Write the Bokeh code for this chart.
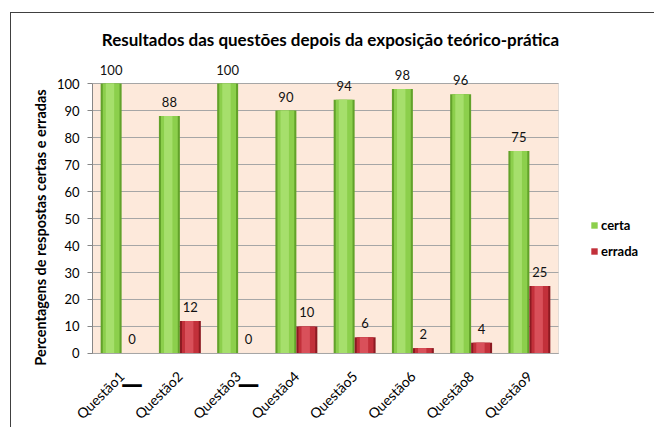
import math
from bokeh.plotting import figure
from bokeh.models import (Range1d, LabelSet, Label, Legend, LegendItem,
                          ColumnDataSource, FixedTicker, BoxAnnotation)
from bokeh.transform import dodge
from bokeh.core.properties import value
from bokeh.embed import file_html
from bokeh.resources import INLINE

# ---- data ----
categories = ["Questão1", "Questão2", "Questão3", "Questão4",
              "Questão5", "Questão6", "Questão8", "Questão9"]
certa = [100, 88, 100, 90, 94, 98, 96, 75]
errada = [0, 12, 0, 10, 6, 2, 4, 25]
series_names = ["certa", "errada"]
y_ticks = [0, 10, 20, 30, 40, 50, 60, 70, 80, 90, 100]
title_text = "Resultados das questões depois da exposição teórico-prática"
y_label_text = "Percentagens de respostas certas e erradas"

FONT = "Lato"

xi = list(range(len(categories)))
src = ColumnDataSource(dict(
    xi=xi, cats=categories, certa=certa, errada=errada,
    certa_txt=[str(v) for v in certa], errada_txt=[str(v) for v in errada],
))
zero_x = [i for i, v in zip(xi, errada) if v == 0]
zero_src = ColumnDataSource(dict(xi=zero_x, txt=["\u2014"] * len(zero_x)))

x_lo, x_hi = -0.5, len(categories) - 0.5
y_lo, y_hi = y_ticks[0], y_ticks[-1]

# the frame covers the whole chart box; the plot area (categories x 0..100) sits inside it
p = figure(x_range=Range1d(-1.8906, 9.1652), y_range=Range1d(-27.78, 125.93),
           width=644, height=415, output_backend="svg", toolbar_location=None,
           min_border_left=0, min_border_right=0, min_border_top=0, min_border_bottom=0)
p.styles = {"position": "relative", "left": "10px", "top": "12px",
            "border-left": "1px solid #404040", "border-top": "1px solid #404040"}

p.background_fill_color = "white"
p.border_fill_color = "white"
p.outline_line_color = None
p.xgrid.visible = False
p.ygrid.visible = False

# plot-area background
p.add_layout(BoxAnnotation(left=x_lo, right=x_hi, bottom=y_lo, top=y_hi,
                           fill_color="#fde9db", fill_alpha=1,
                           line_color="#a6a6a6", line_width=1, level="image"))
# horizontal gridlines
gl = p.segment(x0=x_lo, x1=x_hi, y0=y_ticks, y1=y_ticks, line_color="#a6a6a6", line_width=1)
gl.level = "underlay"

bw = 0.36
off = 0.18
gx = dodge("xi", -off)
rx = dodge("xi", off)

# green bars (layered for a cylinder-like shading)
p.vbar(x=gx, top="certa", width=bw, bottom=0, source=src, fill_color="#62a22a", line_color=None)
g_main = p.vbar(x=gx, top="certa", width=bw * 0.8, bottom=0, source=src, fill_color="#8ccf4c", line_color=None)
p.vbar(x=dodge("xi", -off - 0.02), top="certa", width=bw * 0.4, bottom=0,
       source=src, fill_color="#a6df6c", line_color=None)

# red bars
p.vbar(x=rx, top="errada", width=bw, bottom=0, source=src, fill_color="#8c1a22", line_color=None)
r_main = p.vbar(x=rx, top="errada", width=bw * 0.8, bottom=0, source=src, fill_color="#c2303a", line_color=None)
p.vbar(x=dodge("xi", off - 0.02), top="errada", width=bw * 0.4, bottom=0,
       source=src, fill_color="#d9505a", line_color=None)

# data labels
p.add_layout(LabelSet(x=gx, y="certa", text="certa_txt", source=src, y_offset=14,
                      text_align="center", text_baseline="middle",
                      text_font=value(FONT), text_font_size="13px", text_color="#111111"))
p.add_layout(LabelSet(x=rx, y="errada", text="errada_txt", source=src, y_offset=14,
                      text_align="center", text_baseline="middle",
                      text_font=value(FONT), text_font_size="13px", text_color="#111111"))

# dashes under the zero-valued red bars
p.add_layout(LabelSet(x=rx, y=-11.5, text="txt", source=zero_src,
                      text_align="center", text_baseline="middle", text_font_style="bold",
                      text_font=value("DejaVu Sans"), text_font_size="22px", text_color="black"))

# y axis pinned to the left edge of the plot area
p.yaxis.fixed_location = x_lo
p.yaxis.bounds = (y_lo, y_hi)
p.yaxis.ticker = FixedTicker(ticks=y_ticks)
p.yaxis.axis_line_color = "#868686"
p.yaxis.major_tick_line_color = "#868686"
p.yaxis.major_tick_out = 5
p.yaxis.major_tick_in = 0
p.yaxis.minor_tick_line_color = None
p.yaxis.major_label_standoff = 8
p.yaxis.major_label_text_font = FONT
p.yaxis.major_label_text_font_size = "13px"
p.yaxis.major_label_text_color = "black"

# x axis pinned at 0, category names as tick labels
p.xaxis.fixed_location = y_lo
p.xaxis.bounds = (x_lo, x_hi)
p.xaxis.ticker = FixedTicker(ticks=xi)
p.xaxis.major_label_overrides = {i: c for i, c in zip(xi, categories)}
p.xaxis.axis_line_color = "#a6a6a6"
p.xaxis.major_tick_line_color = None
p.xaxis.minor_tick_line_color = None
p.xaxis.major_label_orientation = math.pi / 4
p.xaxis.major_label_standoff = 14
p.xaxis.major_label_text_font = FONT
p.xaxis.major_label_text_font_size = "14px"
p.xaxis.major_label_text_color = "black"

# title and y-axis title
p.add_layout(Label(x=319, y=389, x_units="screen", y_units="screen", text=title_text,
                   text_align="center", text_baseline="middle", text_font=FONT,
                   text_font_size="17px", text_font_style="bold", text_color="black"))
p.add_layout(Label(x=29, y=201, x_units="screen", y_units="screen", text=y_label_text,
                   angle=math.pi / 2, text_align="center", text_baseline="middle",
                   text_font=FONT, text_font_size="14.5px", text_font_style="bold",
                   text_color="black"))

legend = Legend(items=[LegendItem(label=series_names[0], renderers=[g_main]),
                       LegendItem(label=series_names[1], renderers=[r_main])],
                location=(579, 169), orientation="vertical",
                glyph_width=8, glyph_height=8, label_height=14, spacing=10,
                label_standoff=3, padding=0, margin=0,
                border_line_color=None, background_fill_alpha=0,
                label_text_font=FONT, label_text_font_size="13px",
                label_text_font_style="bold", label_text_color="black")
p.add_layout(legend, "center")

open("out.html", "w").write(file_html(p, INLINE))
